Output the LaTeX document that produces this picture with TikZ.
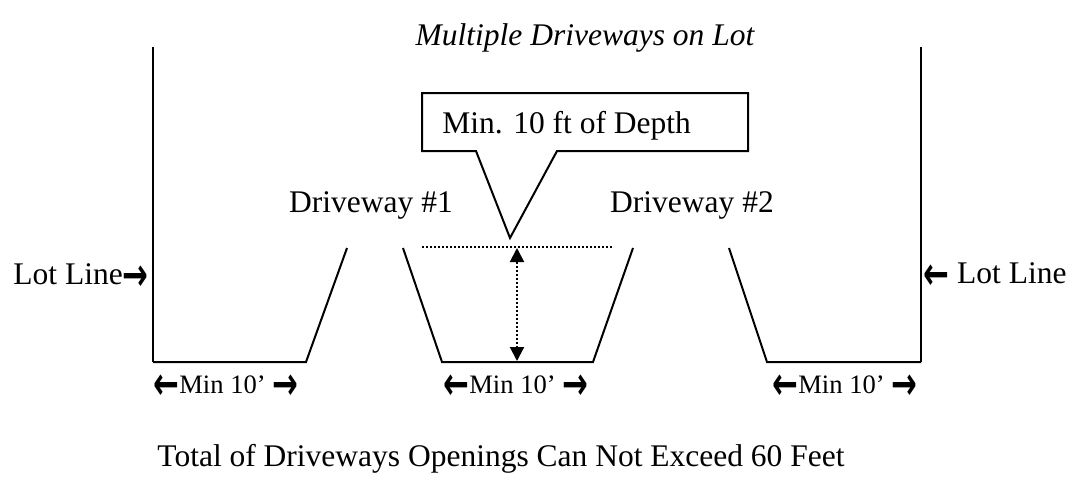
\documentclass[tikz,border=0pt]{standalone}
\usepackage{fontspec}
\usepackage{graphicx}
\setmainfont{Liberation Serif}
\newfontfamily\arrfont{DejaVu Sans}[BoldFont=* Bold]
\usetikzlibrary{arrows.meta}
\newcommand{\arr}[1]{{\arrfont\bfseries\fontsize{15.75pt}{18pt}\selectfont\raisebox{-3.2pt}{\scalebox{0.98}[1.45]{#1}}}}
\begin{document}
\begin{tikzpicture}[x=0.5pt,y=-0.5pt,
  txt/.style={inner sep=0pt,font=\fontsize{15.75pt}{18pt}\selectfont,anchor=base},
  small/.style={inner sep=0pt,font=\fontsize{13.3pt}{15pt}\selectfont,anchor=base west},
  edge/.style={line width=1pt,line cap=butt},
  lot/.style={line width=1.2pt},
  dots/.style={line width=1pt,dash pattern=on 1pt off 1pt},
  depth/.style={line width=1pt,dash pattern=on 1pt off 1pt,{Triangle[width=7pt,length=7pt]}-{Triangle[width=7pt,length=7pt]}}]
\fill[white] (0,0) rectangle (1076,478);
\useasboundingbox (0,0) rectangle (1076,478);
% title
\node[txt,font=\fontsize{15.75pt}{18pt}\selectfont\itshape] (title) at (585,45) {Multiple Driveways on Lot};
% lot lines and driveways
\coordinate (LT) at (153,47);
\coordinate (LB) at (153,362);
\coordinate (A1) at (306,362);
\coordinate (A2) at (347,248);
\coordinate (B1) at (403,248);
\coordinate (B2) at (442,362);
\coordinate (B3) at (593,362);
\coordinate (B4) at (633,248);
\coordinate (C1) at (729,248);
\coordinate (C2) at (767,362);
\coordinate (RB) at (921,362);
\coordinate (RT) at (921,47);
\draw[lot] (LT) -- (LB);
\draw[edge] (LB) -- (A1) -- (A2);
\draw[edge] (B1) -- (B2) -- (B3) -- (B4);
\draw[edge] (C1) -- (C2) -- (RB);
\draw[lot] (RB) -- (RT);
% depth indicator
\coordinate (D1) at (422,247);
\coordinate (D2) at (612,247);
\coordinate (DT) at (517,248);
\coordinate (DB) at (517,361);
\draw[dots] (D1) -- (D2);
\draw[depth] (DT) -- (DB);
% callout
\coordinate (K1) at (422,93);
\coordinate (K2) at (748,93);
\coordinate (K3) at (748,151);
\coordinate (K4) at (557,151);
\coordinate (K5) at (510,238);
\coordinate (K6) at (476,151);
\coordinate (K7) at (422,151);
\draw[line width=1pt,line join=miter] (K1) -- (K2) -- (K3) -- (K4) -- (K5) -- (K6) -- (K7) -- cycle;
\node[txt,anchor=base west] (depthlbl) at (442,133) {Min. 10 ft of Depth};
% labels
\node[txt] (dw1) at (371,212) {Driveway \#1};
\node[txt] (dw2) at (692,212) {Driveway \#2};
\node[txt,anchor=base east] (lotL) at (149,284) {Lot Line\arr{→}};
\node[txt,anchor=base west] (lotR) at (923,283) {\arr{←} Lot Line};
\node[small] (m1) at (153,393) {\arr{←}Min 10’ \arr{→}};
\node[small] (m2) at (443,393) {\arr{←}Min 10’ \arr{→}};
\node[small] (m3) at (772,393) {\arr{←}Min 10’ \arr{→}};
\node[txt] (total) at (501,466) {Total of Driveways Openings Can Not Exceed 60 Feet};
\end{tikzpicture}
\end{document}
